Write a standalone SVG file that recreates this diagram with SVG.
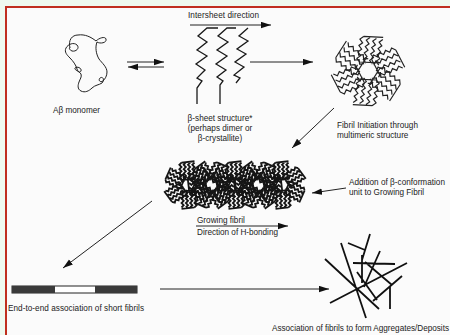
<svg xmlns="http://www.w3.org/2000/svg" width="450" height="335" viewBox="0 0 450 335">
<style>
text{font-family:"Liberation Sans",Arial,sans-serif;font-size:8.2px;fill:#222}
.ln{stroke:#222;stroke-width:1;fill:none}
.zz{stroke:#1a1a1a;stroke-width:1.3;fill:none}
.pw{stroke:#222;stroke-width:1.1;fill:none;stroke-linejoin:miter}
.fb{stroke:#151515;stroke-width:2.5;fill:none}
.ag{stroke:#111;stroke-width:1.8;fill:none;stroke-linecap:butt}
</style>
<defs>
<marker id="ah" markerUnits="userSpaceOnUse" markerWidth="11" markerHeight="7" refX="10" refY="3.2" orient="auto">
<path d="M0,0 L10,3.2 L0,6.4 Z" fill="#111"/>
</marker>
<g id="arm"><path d="M7,-9 l3,-3 3,3 3,-3 3,3 3,-3 3,3 3,-3 3,3 M7,-3 l3,-3 3,3 3,-3 3,3 3,-3 3,3 3,-3 3,3 M7,3 l3,-3 3,3 3,-3 3,3 3,-3 3,3 3,-3 3,3 M7,9 l3,-3 3,3 3,-3 3,3 3,-3 3,3 3,-3 3,3 M7,-9 L9,9 M31,-9 L33,9"/></g>
<g id="wheel">
<use href="#arm" transform="rotate(-81)"/>
<use href="#arm" transform="rotate(-21)"/>
<use href="#arm" transform="rotate(39)"/>
<use href="#arm" transform="rotate(99)"/>
<use href="#arm" transform="rotate(159)"/>
<use href="#arm" transform="rotate(219)"/>
</g>
</defs>
<rect width="450" height="335" fill="#effaef"/>
<rect x="6" y="7" width="450" height="335" fill="#fbfbfb" stroke="#c0301f" stroke-width="2"/>

<g id="monomer">
<path class="ln" stroke-width="1.4" d="M70,48 C68,40 72,35 78,35 C85,34 91,37 96,41 C99,38 105,36 106,39 C107,43 100,44 97,42 C95,47 96,54 99,59 C102,63 107,67 107,72 C107,76 105,79 103,81 C100,83 98,80 100,78 C103,76 105,80 102,83 C99,85 95,85 92,88 C89,91 85,93 81,91 C77,89 78,85 79,82 C80,79 82,77 81,74 C79,71 74,70 75,68 C77,66 82,68 81,71 C80,73 78,72 77,69 C76,65 73,61 70,58 C67,55 64,52 66,48 C68,44 74,42 77,45 C80,48 76,52 72,51 C69,50 69,47 70,48"/>
<text x="76.5" y="113" text-anchor="middle">Aβ monomer</text>
</g>

<g id="beta-sheet">
<text x="188" y="18" textLength="71">Intersheet direction</text>
<path class="zz" d="M218,28 L207,28 L198,36 L207,42 L197,50 L207,56 L196,64 L205,70 L197,78 L202,81 L197,88 L197,104"/>
<path class="zz" d="M236,28 L227,28 L218,36 L228,42 L217,50 L227,56 L216,64 L226,70 L217,77 L223,81 L220,85 L220,104"/>
<path class="zz" d="M248,28 L239,36 L248,41 L237,49 L246,54 L235,62 L244,67 L234,75 L240,78 L236,83"/>
<text x="220" y="121" text-anchor="middle">β-sheet structure*</text>
<text x="220" y="131" text-anchor="middle">(perhaps dimer or</text>
<text x="220" y="141" text-anchor="middle">β-crystallite)</text>
</g>

<g id="pinwheel">
<use href="#wheel" class="pw" transform="translate(368,71) scale(1.08)"/>
<text x="337" y="128" textLength="81">Fibril Initiation through</text>
<text x="337" y="138">multimeric structure</text>
</g>

<g id="fibril">
<use href="#wheel" class="fb" transform="translate(188,185) scale(0.72) rotate(-9)"/>
<use href="#wheel" class="fb" transform="translate(211.5,185) scale(0.72) rotate(21)"/>
<use href="#wheel" class="fb" transform="translate(235,185) scale(0.72) rotate(-9)"/>
<use href="#wheel" class="fb" transform="translate(258.5,185) scale(0.72) rotate(21)"/>
<use href="#wheel" class="fb" transform="translate(282,185) scale(0.72) rotate(-9)"/>
<text x="197" y="223">Growing fibril</text>
<text x="197" y="235" textLength="81">Direction of H-bonding</text>
</g>

<g id="addition">
<text x="349" y="185" textLength="96">Addition of β-conformation</text>
<text x="349" y="195">unit to Growing Fibril</text>
</g>

<g id="end-to-end">
<rect x="12" y="286" width="125" height="7" fill="#fff" stroke="#222" stroke-width="1"/>
<rect x="12" y="286" width="43" height="7" fill="#3a3a3a"/>
<rect x="95" y="286" width="42" height="7" fill="#3a3a3a"/>
<text x="8" y="311" textLength="136">End-to-end association of short fibrils</text>
</g>

<g id="aggregates">
<path class="ag" d="M325,259 L379,309 M341,243 L366,318 M348,243 L365,250 M370,234 L362,260 M362,255 L362,283 M380,251 L364,287 M353,263 L395,264 M407,263 L330,303 M402,276 L373,301 M390,287 L390,309 M357,272 L377,300 M365,262 L392,285"/>
<text x="272" y="331" textLength="177">Association of fibrils to form Aggregates/Deposits</text>
</g>

<g id="connectors" class="ln">
<path d="M127,62 L164,62" marker-end="url(#ah)"/>
<path d="M164,67 L128,67" marker-end="url(#ah)"/>
<path d="M190,25 L271,25" marker-end="url(#ah)"/>
<path d="M250,62 L313,62" marker-end="url(#ah)"/>
<path d="M334,108 L292,148" marker-end="url(#ah)"/>
<path d="M346,188 L312,193" marker-end="url(#ah)"/>
<path d="M196,226 L288,226" marker-end="url(#ah)"/>
<path d="M152,201 L63,268" marker-end="url(#ah)"/>
<path d="M160,289 L329,289" marker-end="url(#ah)"/>
</g>
</svg>
